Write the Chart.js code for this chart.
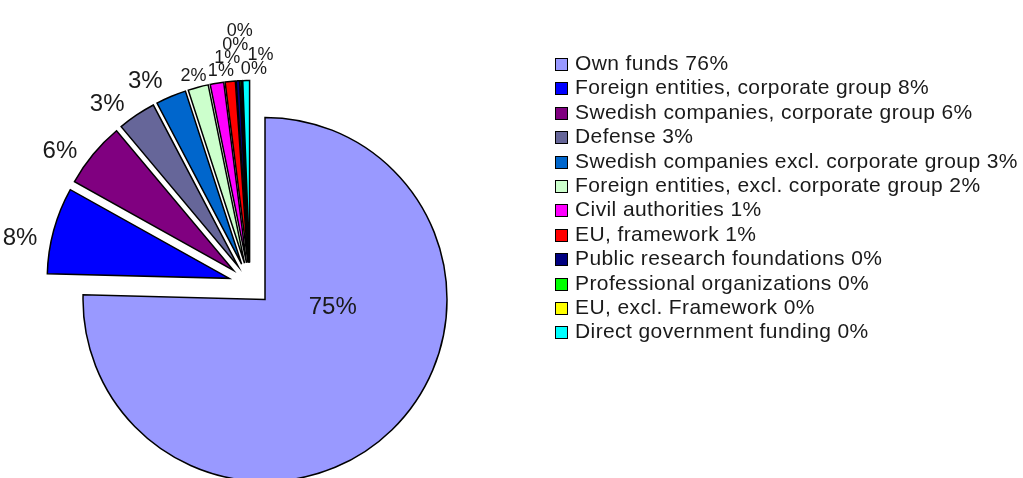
<!DOCTYPE html>
<html>
<head>
<meta charset="utf-8">
<script src="https://cdn.jsdelivr.net/npm/chart.js@4.4.1/dist/chart.umd.min.js"></script>
<style>
  html, body { margin: 0; padding: 0; background: #fff; }
  #wrap { position: relative; width: 1023px; height: 478px; overflow: hidden; }
  #pie { position: absolute; left: 0; top: 0; }
  #legend {
    position: absolute; left: 555px; top: 51px;
    font-family: "Liberation Sans", Arial, sans-serif; font-size: 21px; color: #1a1a1a;
    letter-spacing: 0.4px;
  }
  #legend .row { height: 24.4px; line-height: 24.4px; white-space: nowrap; }
  #legend .box {
    display: inline-block; width: 11px; height: 11px; border: 1.5px solid #000;
    margin-right: 7px; vertical-align: -1px;
  }
</style>
</head>
<body>
<div id="wrap">
  <canvas id="pie" width="1023" height="478"></canvas>
  <div id="legend"></div>
</div>
<script>
// categories in drawing order (clockwise from 12 o'clock)
const categories = [
  "Own funds",
  "Foreign entities, corporate group",
  "Swedish companies, corporate group",
  "Defense",
  "Swedish companies excl. corporate group",
  "Foreign entities, excl. corporate group",
  "Civil authorities",
  "EU, framework",
  "Public research foundations",
  "Professional organizations",
  "EU, excl. Framework",
  "Direct government funding"
];
// share of funding, %
const values = [75.4, 7.7, 5.8, 3.4, 2.7, 1.8, 1.2, 0.9, 0.3, 0.15, 0.05, 0.6];
// percentages as printed in the legend
const legendPercents = [76, 8, 6, 3, 3, 2, 1, 1, 0, 0, 0, 0];
const colors = [
  "#9999FF", "#0000FF", "#800080", "#666699", "#0066CC", "#CCFFCC",
  "#FF00FF", "#FF0000", "#000080", "#00FF00", "#FFFF00", "#00FFFF"
];

// pull every slice out of the centre along its middle angle (Excel style explode)
const explode = {
  id: "explode",
  afterDatasetUpdate(chart, args, opts) {
    args.meta.data.forEach(arc => {
      const mid = (arc.startAngle + arc.endAngle) / 2;
      arc.x += Math.cos(mid) * opts.distance;
      arc.y += Math.sin(mid) * opts.distance;
    });
  }
};

// percentage labels: outside for small slices, inside for the big one
const pctLabels = {
  id: "pctLabels",
  afterDatasetsDraw(chart, args, opts) {
    const ctx = chart.ctx;
    const meta = chart.getDatasetMeta(0);
    const data = chart.data.datasets[0].data;
    const total = data.reduce((a, b) => a + b, 0);
    const deg = Math.PI / 180;
    const placed = [];
    const hits = (x, y, w, h) => placed.some(p =>
      Math.abs(p.x - x) < (p.w + w) / 2 - opts.overlap &&
      Math.abs(p.y - y) < (p.h + h) / 2 - opts.overlap);

    ctx.save();
    ctx.fillStyle = opts.color;
    ctx.textAlign = "center";
    ctx.textBaseline = "middle";
    meta.data.forEach((arc, i) => {
      const share = data[i] / total * 100;
      const text = Math.round(share) + "%";
      const small = share < opts.smallBelow;
      const size = small ? opts.smallSize : opts.size;
      ctx.font = size + "px " + opts.family;
      const w = ctx.measureText(text).width;
      const h = size * 0.75;

      if (share > 50) {
        const a = opts.insideAngle * deg - Math.PI / 2;
        ctx.fillText(text,
          arc.x + Math.cos(a) * arc.outerRadius * opts.insideRadius,
          arc.y + Math.sin(a) * arc.outerRadius * opts.insideRadius);
        return;
      }

      const mid = (arc.startAngle + arc.endAngle) / 2 + (small ? 0 : opts.rotate * deg);
      const spot = (r, a) => {
        const dx = Math.cos(a), dy = Math.sin(a);
        return { x: arc.x + dx * (r + w / 2), y: arc.y + dy * (r + h / 2) };
      };
      const r0 = arc.outerRadius + (small ? opts.smallGap : opts.gap);
      const ideal = spot(r0, mid);
      // nearest free spot around the ideal one, leaning counter-clockwise like Excel
      const cands = [];
      for (let dr = 0; dr <= 70; dr += 2) {
        for (let da = -16; da <= 4; da += 1) {
          const p = spot(r0 + dr, mid + da * deg);
          p.d = Math.hypot(p.x - ideal.x, p.y - ideal.y);
          cands.push(p);
        }
      }
      cands.sort((a, b) => a.d - b.d);
      const pos = cands.find(p => !hits(p.x, p.y, w, h)) || ideal;
      placed.push({ x: pos.x, y: pos.y, w: w, h: h });
      ctx.fillText(text, pos.x, pos.y);
    });
    ctx.restore();
  }
};

new Chart(document.getElementById("pie"), {
  type: "pie",
  data: {
    labels: categories,
    datasets: [{
      data: values,
      backgroundColor: colors,
      borderColor: "#000",
      borderWidth: 1.5,
      borderJoinStyle: "miter",
      radius: 182
    }]
  },
  options: {
    responsive: false,
    animation: false,
    layout: { padding: { left: 0, right: 523, top: 90, bottom: 0 } },
    plugins: {
      legend: { display: false },
      tooltip: { enabled: false },
      explode: { distance: 21.5 },
      pctLabels: {
        color: "#1a1a1a",
        family: "'Liberation Sans', Arial, sans-serif",
        size: 24,
        smallSize: 18,
        smallBelow: 2.5,
        gap: 14,
        smallGap: 5,
        rotate: -4,
        overlap: 1,
        insideAngle: 97,
        insideRadius: 0.375
      }
    }
  },
  plugins: [explode, pctLabels]
});

// legend as in the original: square swatch + category + printed percentage
const legend = document.getElementById("legend");
categories.forEach((c, i) => {
  const row = document.createElement("div");
  row.className = "row";
  const box = document.createElement("span");
  box.className = "box";
  box.style.background = colors[i];
  row.appendChild(box);
  row.appendChild(document.createTextNode(c + " " + legendPercents[i] + "%"));
  legend.appendChild(row);
});
</script>
</body>
</html>
